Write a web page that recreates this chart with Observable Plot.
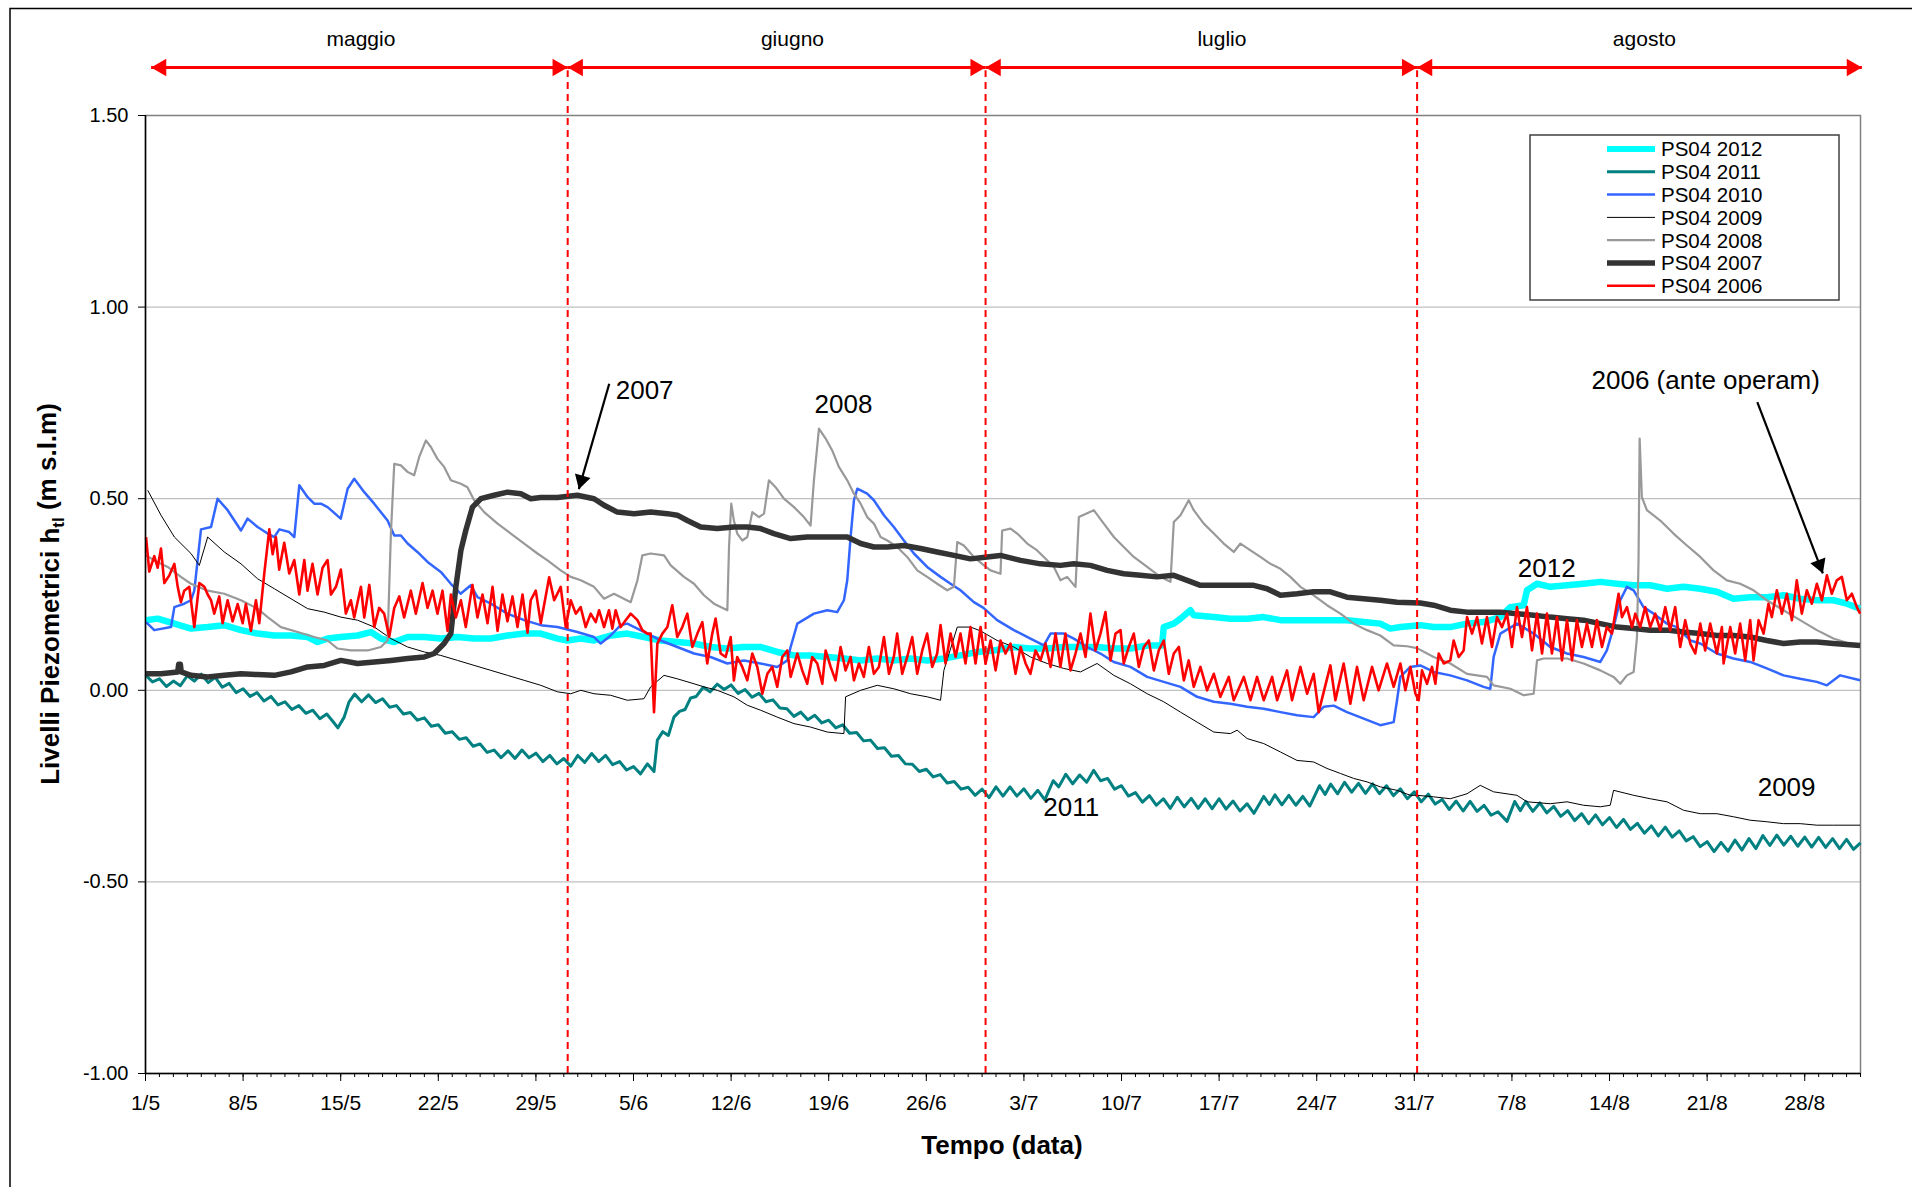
<!DOCTYPE html>
<html>
<head>
<meta charset="utf-8">
<script src="https://cdn.jsdelivr.net/npm/d3@7"></script>
<script src="https://cdn.jsdelivr.net/npm/@observablehq/plot@0.6"></script>
<style>
  html, body { margin: 0; padding: 0; background: #fff; }
</style>
</head>
<body>
<div id="chart"></div>
<script>
// Livelli piezometrici PS04, periodo maggio–agosto, confronto 2006–2012.
// Ogni serie: coppie [giorni dal 1° maggio, livello in m s.l.m.]

const ps04_2012 = [[0.04,0.183],[0.87,0.187],[2.07,0.174],[3.26,0.161],[4.46,0.165],[5.65,0.17],[6.85,0.157],[8.04,0.148],[9.24,0.143],[10.43,0.143],[11.63,0.139],[12.34,0.126],[13.06,0.135],[14.01,0.139],[15.21,0.143],[16.17,0.152],[16.88,0.135],[17.84,0.126],[18.8,0.139],[20.0,0.139],[21.18,0.135],[22.38,0.139],[23.57,0.135],[24.77,0.135],[25.96,0.143],[27.16,0.148],[28.35,0.148],[29.55,0.135],[30.26,0.13],[31.22,0.135],[32.17,0.13],[33.36,0.143],[34.56,0.148],[35.75,0.139],[36.95,0.13],[38.14,0.126],[39.34,0.122],[40.53,0.113],[41.73,0.109],[42.92,0.113],[44.12,0.113],[45.31,0.10],[46.51,0.091],[47.7,0.091],[48.9,0.087],[50.09,0.083],[51.29,0.078],[52.48,0.083],[53.67,0.078],[54.87,0.083],[56.06,0.078],[57.26,0.083],[58.45,0.091],[59.65,0.10],[60.84,0.104],[62.28,0.113],[63.47,0.109],[64.67,0.109],[65.86,0.113],[67.06,0.113],[68.25,0.113],[69.45,0.109],[70.64,0.109],[71.84,0.117],[72.91,0.117],[73.03,0.165],[73.75,0.174],[74.23,0.187],[74.94,0.209],[75.18,0.196],[76.62,0.191],[77.81,0.187],[79.01,0.187],[80.2,0.191],[81.4,0.183],[82.59,0.183],[83.78,0.183],[84.98,0.183],[86.17,0.183],[87.37,0.178],[88.56,0.174],[89.28,0.161],[90.0,0.165],[91.43,0.17],[92.39,0.165],[93.58,0.165],[94.78,0.174],[95.97,0.178],[97.17,0.191],[97.89,0.217],[98.84,0.222],[99.08,0.261],[99.8,0.278],[100.75,0.27],[101.95,0.274],[103.14,0.278],[104.34,0.283],[105.53,0.278],[106.73,0.274],[107.92,0.274],[109.12,0.265],[110.31,0.27],[111.51,0.265],[112.7,0.257],[113.89,0.239],[115.09,0.243],[116.28,0.243],[117.48,0.248],[118.67,0.239],[119.87,0.235],[121.06,0.235],[122.02,0.226],[122.97,0.213]];

const ps04_2011 = [[0,0.040],[0.5,0.022],[1,0.030],[1.5,0.010],[2,0.024],[2.5,0.012],[3,0.038],[3.5,0.024],[4,0.042],[4.5,0.020],[5,0.034],[5.5,0.008],[6,0.018],[6.5,-0.006],[7,0.004],[7.5,-0.016],[8,-0.006],[8.5,-0.028],[9,-0.016],[9.5,-0.038],[10,-0.030],[10.5,-0.050],[11,-0.040],[11.5,-0.060],[12,-0.052],[12.5,-0.074],[13,-0.062],[13.5,-0.084],[13.8,-0.098],[14.25,-0.07],[14.6,-0.03],[15,-0.010],[15.5,-0.030],[16,-0.012],[16.5,-0.032],[17,-0.022],[17.5,-0.044],[18,-0.040],[18.5,-0.062],[19,-0.058],[19.5,-0.078],[20,-0.072],[20.5,-0.094],[21,-0.090],[21.5,-0.112],[22,-0.108],[22.5,-0.128],[23,-0.124],[23.5,-0.146],[24,-0.140],[24.5,-0.162],[25,-0.156],[25.5,-0.176],[26,-0.158],[26.5,-0.178],[27,-0.156],[27.5,-0.176],[28,-0.164],[28.5,-0.186],[29,-0.170],[29.5,-0.192],[30,-0.178],[30.5,-0.198],[31,-0.170],[31.5,-0.188],[32,-0.165],[32.5,-0.186],[33,-0.170],[33.5,-0.194],[34,-0.186],[34.5,-0.208],[35,-0.199],[35.5,-0.218],[36,-0.192],[36.47,-0.212],[36.71,-0.13],[37.1,-0.108],[37.5,-0.118],[37.9,-0.07],[38.3,-0.055],[38.7,-0.05],[39.1,-0.02],[39.5,-0.016],[40,0.008],[40.5,-0.004],[41,0.016],[41.5,0.002],[42,0.014],[42.5,-0.008],[43,0.002],[43.5,-0.018],[44,-0.008],[44.5,-0.030],[45,-0.025],[45.5,-0.046],[46,-0.048],[46.5,-0.068],[47,-0.057],[47.5,-0.077],[48,-0.065],[48.5,-0.085],[49,-0.078],[49.5,-0.098],[50,-0.090],[50.5,-0.112],[51,-0.110],[51.5,-0.132],[52,-0.130],[52.5,-0.152],[53,-0.150],[53.5,-0.172],[54,-0.170],[54.5,-0.192],[55,-0.193],[55.5,-0.212],[56,-0.206],[56.5,-0.226],[57,-0.220],[57.5,-0.242],[58,-0.238],[58.5,-0.258],[59,-0.253],[59.5,-0.274],[60,-0.258],[60.5,-0.280],[61,-0.252],[61.5,-0.276],[62,-0.252],[62.5,-0.276],[63,-0.257],[63.5,-0.282],[64,-0.261],[64.5,-0.286],[65.1,-0.236],[65.5,-0.252],[66,-0.219],[66.5,-0.244],[67,-0.221],[67.5,-0.240],[68,-0.209],[68.5,-0.236],[69,-0.230],[69.5,-0.258],[70,-0.249],[70.5,-0.276],[71,-0.267],[71.5,-0.292],[72,-0.275],[72.5,-0.300],[73,-0.283],[73.5,-0.308],[74,-0.279],[74.5,-0.304],[75,-0.282],[75.5,-0.308],[76,-0.283],[76.5,-0.309],[77,-0.283],[77.5,-0.310],[78,-0.289],[78.5,-0.315],[79,-0.296],[79.5,-0.321],[80.2,-0.277],[80.6,-0.298],[81,-0.273],[81.5,-0.299],[82,-0.274],[82.5,-0.300],[83,-0.277],[83.5,-0.302],[84.2,-0.249],[84.6,-0.272],[85,-0.245],[85.5,-0.270],[86,-0.240],[86.5,-0.266],[87,-0.243],[87.5,-0.269],[88,-0.244],[88.5,-0.270],[89,-0.249],[89.5,-0.275],[90,-0.257],[90.5,-0.283],[91,-0.265],[91.5,-0.291],[92,-0.271],[92.5,-0.297],[93,-0.285],[93.5,-0.311],[94,-0.289],[94.5,-0.315],[95,-0.290],[95.5,-0.316],[96,-0.300],[96.5,-0.326],[97,-0.317],[97.65,-0.342],[98.2,-0.290],[98.6,-0.314],[99,-0.290],[99.5,-0.316],[100,-0.294],[100.5,-0.320],[101,-0.303],[101.5,-0.329],[102,-0.314],[102.5,-0.340],[103,-0.322],[103.5,-0.348],[104,-0.325],[104.5,-0.351],[105,-0.332],[105.5,-0.358],[106,-0.337],[106.5,-0.363],[107,-0.347],[107.5,-0.373],[108,-0.354],[108.5,-0.380],[109,-0.357],[109.5,-0.383],[110,-0.367],[110.5,-0.393],[111,-0.382],[111.5,-0.408],[112,-0.395],[112.5,-0.421],[113,-0.397],[113.5,-0.420],[114,-0.391],[114.5,-0.417],[115,-0.387],[115.5,-0.413],[116,-0.379],[116.5,-0.405],[117,-0.378],[117.5,-0.404],[118,-0.381],[118.5,-0.407],[119,-0.383],[119.5,-0.409],[120,-0.384],[120.5,-0.410],[121,-0.387],[121.5,-0.413],[122,-0.389],[122.5,-0.415],[123,-0.398]];

const ps04_2010 = [[0.04,0.178],[0.63,0.157],[1.83,0.165],[2.07,0.217],[2.78,0.226],[3.26,0.235],[3.5,0.26],[3.98,0.42],[4.7,0.426],[5.17,0.50],[5.89,0.47],[6.85,0.417],[7.32,0.448],[8.04,0.426],[8.76,0.409],[9.24,0.40],[9.6,0.42],[10.31,0.413],[10.67,0.40],[11.03,0.535],[11.63,0.504],[12.1,0.487],[12.58,0.487],[13.06,0.478],[14.0,0.448],[14.5,0.526],[14.97,0.552],[15.69,0.517],[16.4,0.487],[17.36,0.443],[17.84,0.404],[18.32,0.404],[18.8,0.383],[19.5,0.361],[20.23,0.335],[21.18,0.309],[21.9,0.278],[22.6,0.252],[23.33,0.274],[23.81,0.243],[24.77,0.226],[25.96,0.20],[27.16,0.183],[28.35,0.17],[29.55,0.165],[30.97,0.152],[32.17,0.139],[32.65,0.122],[33.36,0.143],[34.08,0.17],[34.56,0.174],[35.99,0.148],[36.95,0.13],[38.14,0.113],[39.34,0.096],[40.53,0.087],[41.73,0.07],[42.92,0.078],[44.12,0.07],[45.31,0.061],[46.03,0.078],[46.27,0.113],[46.75,0.174],[47.94,0.20],[48.9,0.209],[49.61,0.204],[50.09,0.235],[50.33,0.287],[50.57,0.40],[50.81,0.496],[51.05,0.526],[51.76,0.513],[52.24,0.496],[52.96,0.457],[53.67,0.426],[54.39,0.391],[55.11,0.357],[56.06,0.322],[57.02,0.296],[57.74,0.278],[58.45,0.261],[59.41,0.23],[60.1,0.215],[61.08,0.183],[62.28,0.157],[63.47,0.135],[64.43,0.117],[64.91,0.148],[65.86,0.148],[66.58,0.135],[67.54,0.113],[68.49,0.096],[69.45,0.074],[70.64,0.061],[71.84,0.035],[73.03,0.022],[74.23,0.009],[75.42,-0.017],[76.62,-0.03],[77.81,-0.035],[79.01,-0.043],[80.2,-0.048],[81.4,-0.057],[82.59,-0.065],[83.78,-0.07],[84.5,-0.043],[85.22,-0.04],[86.17,-0.057],[87.37,-0.074],[88.56,-0.091],[89.52,-0.083],[89.76,-0.026],[90.0,0.035],[90.71,0.061],[91.43,0.065],[92.39,0.048],[93.58,0.039],[94.78,0.026],[95.97,0.009],[96.45,0.004],[96.69,0.087],[97.17,0.148],[98.36,0.174],[99.56,0.148],[100.75,0.113],[101.95,0.096],[103.14,0.087],[104.34,0.074],[104.81,0.104],[105.29,0.165],[105.77,0.235],[106.25,0.27],[106.73,0.261],[107.44,0.217],[108.16,0.20],[109.12,0.174],[109.83,0.165],[110.79,0.13],[111.51,0.122],[112.7,0.096],[113.89,0.083],[115.09,0.074],[116.28,0.057],[117.48,0.039],[118.67,0.03],[119.87,0.022],[120.59,0.013],[121.54,0.039],[122.97,0.026]];

const ps04_2009 = [[0.16,0.522],[1.11,0.457],[2.07,0.40],[3.26,0.357],[3.86,0.326],[4.46,0.40],[5.65,0.361],[6.85,0.33],[8.04,0.291],[9.24,0.265],[10.43,0.239],[11.63,0.213],[12.82,0.204],[14.01,0.191],[15.21,0.183],[16.41,0.165],[17.6,0.135],[18.8,0.113],[20.0,0.10],[21.18,0.091],[22.38,0.078],[23.57,0.065],[24.77,0.052],[25.96,0.039],[27.16,0.026],[28.35,0.013],[29.55,-0.004],[30.5,-0.009],[31.22,0.0],[32.17,-0.009],[33.36,-0.013],[34.56,-0.026],[35.75,-0.022],[36.23,0.009],[37.19,0.039],[38.14,0.03],[39.34,0.017],[40.05,0.009],[41.01,0.0],[42.2,-0.017],[43.16,-0.039],[44.12,-0.052],[45.31,-0.07],[46.51,-0.087],[47.7,-0.096],[48.9,-0.109],[50.09,-0.113],[50.21,-0.017],[51.29,0.0],[52.48,0.013],[53.67,0.004],[54.87,-0.009],[56.06,-0.017],[57.02,-0.026],[57.26,0.052],[58.22,0.165],[59.17,0.165],[59.89,0.155],[61.08,0.13],[62.28,0.113],[63.47,0.087],[64.67,0.07],[65.86,0.057],[67.06,0.048],[68.25,0.07],[69.45,0.039],[70.64,0.017],[71.84,-0.009],[73.03,-0.03],[74.23,-0.057],[75.42,-0.083],[76.62,-0.109],[77.81,-0.113],[78.29,-0.104],[79.01,-0.126],[80.2,-0.139],[81.4,-0.161],[82.59,-0.183],[83.78,-0.187],[84.74,-0.204],[85.7,-0.217],[86.65,-0.23],[87.61,-0.239],[88.56,-0.252],[89.76,-0.261],[90.71,-0.274],[91.19,-0.274],[92.39,-0.278],[93.58,-0.283],[94.78,-0.27],[95.73,-0.248],[96.69,-0.265],[98.36,-0.274],[99.08,-0.291],[100.75,-0.296],[101.95,-0.291],[103.14,-0.30],[104.34,-0.304],[105.05,-0.30],[105.29,-0.261],[106.73,-0.274],[107.92,-0.283],[109.12,-0.291],[110.31,-0.313],[111.51,-0.322],[112.7,-0.322],[113.89,-0.33],[115.09,-0.339],[116.28,-0.343],[117.48,-0.348],[118.67,-0.348],[119.87,-0.352],[121.06,-0.352],[122.97,-0.352]];

const ps04_2008 = [[0.04,0.352],[0.63,0.339],[1.59,0.322],[2.54,0.296],[3.26,0.278],[4.46,0.26],[5.65,0.252],[6.85,0.235],[8.04,0.213],[8.76,0.191],[9.71,0.165],[10.91,0.152],[12.1,0.139],[13.06,0.13],[13.78,0.109],[14.73,0.104],[15.93,0.104],[16.88,0.113],[17.36,0.13],[17.6,0.409],[17.84,0.591],[18.32,0.587],[18.79,0.57],[19.27,0.561],[19.63,0.609],[20.11,0.652],[20.47,0.635],[20.94,0.604],[21.42,0.583],[21.9,0.548],[22.62,0.539],[23.09,0.53],[23.57,0.496],[24.29,0.465],[25.25,0.435],[26.2,0.409],[27.16,0.383],[28.11,0.357],[28.83,0.339],[29.78,0.313],[30.5,0.296],[31.22,0.287],[32.17,0.27],[32.89,0.239],[33.6,0.252],[34.8,0.23],[35.28,0.287],[35.63,0.352],[36.23,0.357],[37.19,0.352],[37.67,0.326],[38.62,0.296],[39.34,0.278],[40.05,0.248],[40.77,0.226],[41.73,0.209],[41.85,0.374],[42.01,0.487],[42.2,0.443],[42.44,0.409],[42.8,0.391],[43.16,0.40],[43.52,0.465],[44.0,0.452],[44.36,0.461],[44.71,0.548],[45.19,0.53],[45.79,0.50],[46.51,0.478],[47.22,0.452],[47.7,0.43],[47.94,0.548],[48.3,0.683],[48.78,0.657],[49.25,0.626],[49.73,0.583],[50.33,0.548],[50.81,0.513],[51.29,0.487],[51.76,0.452],[52.24,0.435],[52.72,0.40],[53.2,0.391],[53.91,0.374],[54.63,0.348],[55.35,0.313],[56.06,0.296],[56.78,0.278],[57.5,0.261],[57.98,0.27],[58.22,0.387],[58.69,0.378],[59.41,0.348],[60.13,0.326],[60.61,0.313],[61.32,0.304],[61.44,0.417],[62.04,0.422],[62.52,0.409],[63.24,0.383],[63.95,0.365],[64.43,0.348],[65.15,0.322],[65.62,0.287],[66.1,0.296],[66.7,0.27],[66.94,0.452],[68.01,0.47],[68.73,0.435],[69.45,0.40],[70.16,0.374],[70.88,0.348],[71.84,0.322],[72.79,0.296],[73.51,0.283],[73.75,0.439],[74.23,0.457],[74.82,0.496],[75.18,0.47],[75.9,0.435],[76.62,0.409],[77.33,0.383],[78.05,0.361],[78.53,0.383],[79.25,0.365],[79.96,0.348],[80.68,0.33],[81.4,0.317],[82.11,0.296],[82.83,0.27],[83.78,0.248],[84.74,0.222],[85.7,0.20],[86.65,0.174],[87.61,0.157],[88.56,0.143],[89.52,0.117],[90.48,0.115],[91.19,0.11],[92.39,0.087],[93.58,0.07],[94.78,0.043],[96.21,0.035],[96.69,0.013],[97.89,0.004],[98.84,-0.013],[99.56,-0.009],[99.8,0.078],[100.27,0.083],[101.95,0.083],[103.14,0.07],[104.34,0.052],[105.29,0.035],[105.77,0.017],[106.25,0.039],[106.73,0.048],[106.97,0.139],[107.08,0.339],[107.16,0.657],[107.32,0.504],[107.68,0.47],[108.64,0.443],[109.59,0.409],[110.55,0.378],[111.51,0.348],[112.46,0.313],[113.42,0.287],[114.37,0.278],[115.33,0.261],[116.28,0.235],[117.48,0.209],[118.67,0.183],[119.87,0.157],[121.06,0.135],[122.97,0.113]];

const ps04_2007 = [[0.04,0.043],[1.11,0.043],[2.31,0.048],[2.38,0.068],[2.5,0.068],[2.56,0.048],[3.26,0.039],[4.46,0.035],[5.65,0.039],[6.85,0.043],[8.04,0.041],[9.24,0.039],[10.43,0.048],[11.63,0.061],[12.82,0.065],[14.01,0.078],[15.21,0.07],[16.41,0.074],[17.6,0.078],[18.8,0.083],[20.0,0.087],[20.7,0.096],[21.42,0.122],[21.9,0.148],[22.26,0.27],[22.62,0.365],[22.97,0.417],[23.45,0.478],[24.05,0.50],[25.0,0.509],[25.96,0.517],[26.92,0.513],[27.63,0.50],[28.35,0.503],[29.55,0.503],[30.97,0.509],[32.17,0.50],[32.89,0.483],[33.84,0.465],[35.04,0.461],[36.23,0.465],[37.43,0.461],[38.14,0.457],[38.86,0.443],[39.82,0.426],[41.01,0.422],[42.2,0.426],[43.16,0.426],[44.12,0.422],[45.07,0.409],[46.27,0.396],[47.46,0.40],[48.9,0.40],[50.33,0.40],[51.29,0.383],[52.24,0.374],[53.2,0.374],[54.39,0.378],[55.59,0.37],[56.78,0.361],[57.98,0.352],[59.17,0.343],[60.37,0.348],[61.32,0.352],[62.76,0.339],[64.19,0.33],[65.62,0.326],[66.58,0.33],[67.77,0.326],[68.97,0.313],[70.16,0.304],[71.36,0.30],[72.55,0.296],[73.75,0.30],[74.71,0.287],[75.66,0.274],[76.62,0.274],[78.05,0.274],[79.48,0.274],[80.44,0.265],[81.4,0.248],[82.59,0.252],[83.78,0.257],[84.98,0.257],[86.17,0.243],[87.37,0.239],[88.56,0.235],[89.76,0.23],[91.43,0.228],[92.39,0.222],[93.58,0.209],[94.78,0.204],[97.17,0.204],[98.36,0.20],[99.56,0.196],[100.75,0.191],[101.95,0.187],[103.14,0.183],[104.34,0.174],[105.53,0.165],[106.73,0.161],[107.92,0.157],[109.12,0.157],[110.31,0.152],[111.51,0.148],[112.7,0.143],[113.89,0.143],[115.09,0.139],[116.28,0.13],[117.48,0.122],[118.67,0.126],[119.87,0.126],[121.06,0.122],[122.97,0.117]];

const ps04_2006 = [[0.04,0.40],[0.27,0.31],[0.63,0.35],[0.87,0.32],[1.11,0.37],[1.35,0.28],[1.71,0.30],[2.07,0.33],[2.31,0.27],[2.54,0.23],[2.78,0.26],[3.14,0.27],[3.5,0.165],[3.86,0.28],[4.22,0.27],[4.46,0.25],[4.7,0.235],[4.93,0.20],[5.29,0.245],[5.53,0.175],[5.89,0.235],[6.25,0.18],[6.61,0.225],[6.97,0.175],[7.2,0.225],[7.56,0.155],[7.92,0.235],[8.16,0.175],[8.52,0.305],[8.88,0.42],[9.12,0.355],[9.35,0.40],[9.59,0.315],[9.95,0.385],[10.31,0.305],[10.67,0.34],[11.03,0.25],[11.39,0.34],[11.62,0.26],[11.98,0.33],[12.34,0.25],[12.7,0.32],[13.06,0.34],[13.3,0.25],[13.66,0.27],[14.01,0.315],[14.37,0.20],[14.73,0.235],[14.97,0.19],[15.45,0.27],[15.69,0.19],[16.05,0.275],[16.41,0.165],[16.76,0.215],[17.12,0.20],[17.48,0.14],[17.84,0.215],[18.2,0.245],[18.55,0.19],[19.03,0.26],[19.39,0.20],[19.87,0.28],[20.23,0.215],[20.59,0.26],[20.94,0.20],[21.3,0.26],[21.66,0.155],[21.9,0.25],[22.26,0.19],[22.62,0.235],[22.97,0.165],[23.45,0.275],[23.81,0.19],[24.17,0.25],[24.53,0.175],[24.89,0.27],[25.25,0.155],[25.6,0.25],[25.96,0.18],[26.32,0.245],[26.68,0.165],[27.04,0.25],[27.4,0.15],[27.63,0.235],[27.99,0.26],[28.35,0.175],[28.95,0.295],[29.31,0.235],[29.78,0.27],[30.14,0.165],[30.5,0.235],[30.86,0.20],[31.21,0.217],[31.57,0.165],[31.93,0.20],[32.29,0.178],[32.53,0.209],[32.89,0.165],[33.24,0.209],[33.48,0.161],[33.72,0.209],[34.08,0.165],[34.44,0.183],[34.8,0.20],[35.28,0.183],[35.63,0.157],[35.99,0.148],[36.23,0.148],[36.47,-0.057],[36.71,0.122],[37.07,0.148],[37.43,0.165],[37.78,0.222],[38.14,0.139],[38.5,0.165],[38.86,0.20],[39.22,0.113],[39.58,0.148],[39.94,0.178],[40.29,0.07],[40.65,0.148],[40.89,0.187],[41.25,0.096],[41.61,0.087],[41.97,0.139],[42.2,0.026],[42.44,0.087],[42.8,0.061],[43.16,0.026],[43.52,0.096],[43.88,0.061],[44.24,-0.009],[44.6,0.043],[44.95,0.061],[45.31,0.009],[45.67,0.087],[46.03,0.104],[46.27,0.035],[46.75,0.096],[47.1,0.052],[47.46,0.017],[47.82,0.087],[48.18,0.07],[48.54,0.017],[48.78,0.104],[49.14,0.061],[49.49,0.026],[49.85,0.113],[50.21,0.052],[50.57,0.087],[50.81,0.026],[51.17,0.07],[51.52,0.035],[51.88,0.113],[52.24,0.043],[52.6,0.061],[52.96,0.139],[53.32,0.043],[53.67,0.087],[53.91,0.148],[54.27,0.043],[54.63,0.087],[54.99,0.139],[55.35,0.043],[55.71,0.104],[56.06,0.148],[56.42,0.061],[56.78,0.096],[57.02,0.17],[57.38,0.07],[57.74,0.148],[58.1,0.087],[58.45,0.148],[58.81,0.07],[59.17,0.165],[59.53,0.07],[59.89,0.165],[60.25,0.07],[60.61,0.13],[60.97,0.052],[61.32,0.13],[61.68,0.096],[62.04,0.122],[62.4,0.043],[62.76,0.113],[63.12,0.07],[63.47,0.043],[63.83,0.104],[64.19,0.078],[64.55,0.122],[64.91,0.061],[65.27,0.148],[65.62,0.061],[65.98,0.148],[66.34,0.052],[66.7,0.096],[67.06,0.148],[67.42,0.087],[67.77,0.20],[68.13,0.104],[68.49,0.148],[68.85,0.204],[69.21,0.078],[69.57,0.148],[69.93,0.157],[70.16,0.07],[70.52,0.113],[70.88,0.148],[71.24,0.061],[71.6,0.113],[71.96,0.13],[72.32,0.052],[72.67,0.104],[73.03,0.13],[73.39,0.043],[73.75,0.096],[74.11,0.113],[74.47,0.026],[74.82,0.078],[75.18,0.009],[75.66,0.061],[76.14,0.0],[76.62,0.043],[77.09,-0.017],[77.69,0.035],[78.05,-0.026],[78.77,0.035],[79.25,-0.026],[79.72,0.035],[80.2,-0.026],[80.8,0.035],[81.16,-0.026],[81.87,0.052],[82.23,-0.026],[82.83,0.061],[83.31,-0.009],[83.78,0.043],[84.14,-0.057],[84.98,0.065],[85.34,-0.026],[85.93,0.07],[86.41,-0.035],[86.89,0.061],[87.37,-0.026],[87.97,0.061],[88.44,0.0],[89.04,0.07],[89.52,0.009],[90.0,0.07],[90.36,0.0],[90.72,0.061],[91.08,-0.009],[91.31,-0.026],[91.55,0.052],[91.91,0.017],[92.27,0.061],[92.51,0.017],[92.75,0.096],[93.11,0.07],[93.58,0.078],[93.82,0.13],[94.18,0.087],[94.54,0.104],[94.78,0.191],[95.14,0.148],[95.5,0.191],[95.85,0.122],[96.21,0.191],[96.57,0.113],[96.93,0.191],[97.29,0.165],[97.65,0.2],[98.0,0.113],[98.36,0.217],[98.72,0.139],[99.08,0.217],[99.44,0.104],[99.8,0.2],[100.16,0.096],[100.51,0.2],[100.87,0.096],[101.23,0.191],[101.59,0.078],[101.95,0.183],[102.31,0.078],[102.66,0.183],[103.02,0.113],[103.38,0.174],[103.74,0.113],[104.1,0.183],[104.46,0.113],[104.81,0.165],[105.17,0.148],[105.65,0.252],[105.89,0.191],[106.25,0.217],[106.61,0.165],[106.85,0.2],[107.2,0.165],[107.56,0.217],[107.92,0.165],[108.28,0.2],[108.64,0.157],[109.0,0.217],[109.35,0.157],[109.71,0.217],[110.07,0.113],[110.43,0.183],[110.79,0.122],[111.15,0.096],[111.51,0.174],[111.86,0.104],[112.22,0.174],[112.7,0.096],[113.06,0.165],[113.18,0.07],[113.66,0.165],[114.01,0.096],[114.37,0.174],[114.73,0.078],[115.09,0.183],[115.33,0.078],[115.69,0.183],[116.05,0.148],[116.4,0.226],[116.64,0.191],[117.0,0.261],[117.36,0.2],[117.72,0.252],[118.08,0.183],[118.43,0.287],[118.79,0.2],[119.15,0.261],[119.51,0.226],[119.87,0.278],[120.23,0.235],[120.59,0.3],[120.94,0.252],[121.3,0.287],[121.66,0.296],[122.02,0.235],[122.38,0.252],[122.74,0.217],[122.97,0.2]];

// Mesi e limiti dei tratti (giorni dal 1° maggio), valori dei tick
const monthNames = ["maggio", "giugno", "luglio", "agosto"];
const monthEdges = [0.4, 30.28, 60.25, 91.2, 123.1];
const yTicks = [-1, -0.5, 0, 0.5, 1, 1.5];

// ---- impostazioni grafiche ----
const W = 1912, H = 1187;
const M = {left: 145, right: 52, top: 115, bottom: 114};
const pxPerDay = (W - M.left - M.right) / 123;
const pxPerUnit = (H - M.top - M.bottom) / 2.5;

const series = [
  {name: "PS04 2012", data: ps04_2012, color: "#00ffff", width: 6.5},
  {name: "PS04 2011", data: ps04_2011, color: "#008080", width: 3},
  {name: "PS04 2010", data: ps04_2010, color: "#3366ff", width: 2.5},
  {name: "PS04 2009", data: ps04_2009, color: "#000000", width: 1},
  {name: "PS04 2008", data: ps04_2008, color: "#999999", width: 2.2},
  {name: "PS04 2007", data: ps04_2007, color: "#333333", width: 5.5},
  {name: "PS04 2006", data: ps04_2006, color: "#ff0000", width: 2.6}
];

const t0 = Date.UTC(2006, 4, 1);
const toDate = d => new Date(t0 + d * 864e5);
const xDomain = [toDate(0), toDate(123)];
const weekTicks = d3.range(0, 123, 7).map(toDate);
const dayTicks = d3.range(0, 124).map(toDate);
const fmtDay = d => `${d.getUTCDate()}/${d.getUTCMonth() + 1}`;

const months = monthNames.map((name, i) => ({name, start: monthEdges[i], end: monthEdges[i + 1]}));
const monthLabelDay = [15.45, 46.4, 77.2, 107.5];
const yArrow = 1.625, yMonthText = 1.70, yDividerTop = 1.617;

// etichette e frecce di richiamo (posizioni in coordinate dati)
const labels = [
  {text: "2007", day: 35.8, level: 0.781},
  {text: "2008", day: 50.06, level: 0.746},
  {text: "2012", day: 100.5, level: 0.318},
  {text: "2011", day: 66.4, level: -0.306},
  {text: "2009", day: 117.7, level: -0.254},
  {text: "2006 (ante operam)", day: 111.9, level: 0.807}
];
const pointers = [
  {from: [33.26, 0.80], to: [31.08, 0.525]},
  {from: [115.6, 0.752], to: [120.3, 0.305]}
];

function pointerHead(p) {
  const dxp = (p.to[0] - p.from[0]) * pxPerDay;
  const dyp = -(p.to[1] - p.from[1]) * pxPerUnit;
  const theta = Math.atan2(dxp, -dyp);
  const back = 9.3;
  return Plot.dot([p], {
    x: d => toDate(d.to[0]), y: d => d.to[1],
    symbol: "triangle", r: 6, fill: "black", stroke: null,
    rotate: theta * 180 / Math.PI,
    dx: -back * Math.sin(theta), dy: back * Math.cos(theta)
  });
}

const headBack = 10.1;
const plot = Plot.plot({
  width: W, height: H,
  marginLeft: M.left, marginRight: M.right, marginTop: M.top, marginBottom: M.bottom,
  style: {fontFamily: "'Liberation Sans', Arial, Helvetica, sans-serif", fontSize: "20px", color: "black", background: "white", overflow: "visible"},
  x: {type: "utc", domain: xDomain},
  y: {domain: [-1, 1.5]},
  marks: [
    Plot.gridY([-0.5, 0, 0.5, 1], {stroke: "#c0c0c0", strokeOpacity: 1, strokeWidth: 1.2}),
    Plot.frame({stroke: "#808080", strokeWidth: 1.5}),
    ...series.map(s => Plot.line(s.data, {
      x: d => toDate(d[0]), y: d => d[1],
      stroke: s.color, strokeWidth: s.width, strokeLinejoin: "round", strokeLinecap: "butt"
    })),
    Plot.ruleX(monthEdges.slice(1, 4).map(toDate), {y1: -1, y2: yDividerTop, stroke: "#ff0000", strokeWidth: 2, strokeDasharray: "7,5"}),
    Plot.link(months, {x1: d => toDate(d.start), x2: d => toDate(d.end), y1: yArrow, y2: yArrow, stroke: "#ff0000", strokeWidth: 3}),
    Plot.dot(months, {x: d => toDate(d.start), y: yArrow, symbol: "triangle", r: 6.5, fill: "#ff0000", stroke: null, rotate: -90, dx: headBack}),
    Plot.dot(months, {x: d => toDate(d.end), y: yArrow, symbol: "triangle", r: 6.5, fill: "#ff0000", stroke: null, rotate: 90, dx: -headBack}),
    Plot.text(months, {x: (d, i) => toDate(monthLabelDay[i]), y: yMonthText, text: "name", fontSize: 21, fill: "black"}),
    Plot.axisY(yTicks, {tickSize: 7, tickPadding: 10, tickFormat: d => d.toFixed(2), fontSize: 20, label: null}),
    Plot.axisX(dayTicks, {tickSize: 4, tickFormat: () => "", label: null}),
    Plot.axisX(weekTicks, {tickSize: 8, tickPadding: 14, tickFormat: fmtDay, fontSize: 21, label: null}),
    Plot.ruleX([xDomain[0]], {stroke: "black", strokeWidth: 1.5}),
    Plot.ruleY([-1], {stroke: "black", strokeWidth: 1.5}),
    Plot.link(pointers, {x1: d => toDate(d.from[0]), y1: d => d.from[1], x2: d => toDate(d.to[0]), y2: d => d.to[1], stroke: "black", strokeWidth: 2.2}),
    ...pointers.map(pointerHead),
    Plot.text(labels, {x: d => toDate(d.day), y: "level", text: "text", fontSize: 26, fill: "black"})
  ]
});

document.getElementById("chart").appendChild(plot);

// Cornice esterna, titoli degli assi e legenda
const svg = d3.select(plot);
svg.append("rect")
  .attr("x", 10).attr("y", 8.5).attr("width", W).attr("height", H)
  .attr("fill", "none").attr("stroke", "black").attr("stroke-width", 1.5);

const yTitle = svg.append("text")
  .attr("transform", "translate(50,594) rotate(-90)")
  .attr("text-anchor", "middle").attr("dy", "0.35em")
  .attr("font-weight", "bold").attr("font-size", 26).attr("fill", "black");
yTitle.append("tspan").text("Livelli Piezometrici h");
yTitle.append("tspan").attr("font-size", 17).attr("dy", "0.3em").text("tl");
yTitle.append("tspan").attr("dy", "-0.3em").attr("font-size", 26).text(" (m s.l.m)");

svg.append("text")
  .attr("x", 1002).attr("y", 1145).attr("dy", "0.35em")
  .attr("text-anchor", "middle").attr("font-weight", "bold").attr("font-size", 26)
  .attr("fill", "black").text("Tempo (data)");

const legend = svg.append("g").attr("text-anchor", "start");
legend.append("rect")
  .attr("x", 1530).attr("y", 135).attr("width", 309).attr("height", 165)
  .attr("fill", "white").attr("stroke", "#404040").attr("stroke-width", 1.5);
series.forEach((s, i) => {
  const y = 149 + i * 22.8;
  legend.append("line")
    .attr("x1", 1607).attr("x2", 1655).attr("y1", y).attr("y2", y)
    .attr("stroke", s.color).attr("stroke-width", Math.min(s.width, 6));
  legend.append("text")
    .attr("x", 1661).attr("y", y).attr("dy", "0.36em").attr("text-anchor", "start")
    .attr("font-size", 20.5).attr("fill", "black").text(s.name);
});
</script>
</body>
</html>
